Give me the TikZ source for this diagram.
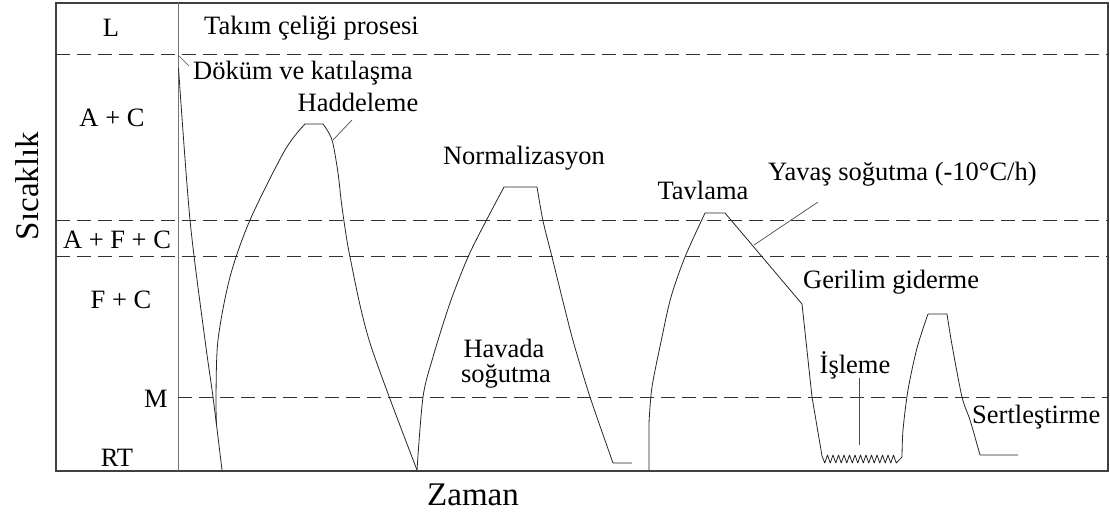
\documentclass[tikz,border=0pt]{standalone}
\usepackage{fontspec}
\setmainfont{Liberation Serif}
\begin{document}
\begin{tikzpicture}[x=1pt,y=-1pt,
  lbl/.style={inner sep=0pt, anchor=base, font=\fontsize{26.5}{28}\selectfont},
  axislbl/.style={inner sep=0pt, anchor=base, font=\fontsize{33}{36}\selectfont},
  frameline/.style={draw=black!75, line width=1.2pt},
  sepline/.style={draw=black!55, line width=1pt},
  phase/.style={draw=black!80, line width=0.8pt, dash pattern=on 14pt off 7pt},
  curve/.style={draw=black!85, line width=0.8pt, line join=round},
  leader/.style={draw=black!70, line width=0.7pt}]
\useasboundingbox (0,0) rectangle (1110,513);

% frame and column separator
\draw[frameline] (56,3) rectangle (1108,471);
\draw[sepline] (178,3) -- (178,471);

% phase boundaries
\draw[phase] (56,54) -- (1108,54);
\draw[phase] (56,220) -- (1108,220);
\draw[phase] (56,256) -- (1108,256);
\draw[phase] (178,397) -- (1108,397);

% phase labels
\node[lbl] (pL) at (111,37) {L};
\node[lbl] (pAC) at (112,127) {A + C};
\node[lbl] (pAFC) at (117,248) {A + F + C};
\node[lbl] (pFC) at (121,308) {F + C};
\node[lbl, anchor=base east] (pM) at (168,407) {M};
\node[lbl] (pRT) at (117,466) {RT};

% axis titles
\node[lbl, anchor=base west] (title) at (204,35) {Takım çeliği prosesi};
\node[axislbl, rotate=90] (ylab) at (38,186) {Sıcaklık};
\node[axislbl] (xlab) at (473,505) {Zaman};

% casting and solidification
\draw[curve] plot[smooth, tension=0.5] coordinates {(178.5,68) (190,220) (205,340) (213,397) (222,470)};

% rolling
\draw[curve] plot[smooth, tension=0.5] coordinates {(216.5,425) (216,397) (218,340) (230,277) (250,220) (285,150) (305,124)}
  -- (323,124)
  -- plot[smooth, tension=0.5] coordinates {(323,124) (332,140) (338,173) (342,207) (350,257) (370,343) (417,470)};

% normalizing
\draw[curve] plot[smooth, tension=0.5] coordinates {(417,470) (423,397) (433,357) (450,303) (468,257) (486,221) (504,187)}
  -- (537,187)
  -- plot[smooth, tension=0.4] coordinates {(537,187) (543,221) (552,257) (572,337) (590,397) (613,463)}
  -- (632,463);

% annealing, slow cooling, stress relief, machining, hardening
\draw[curve] (649,470) -- (649,423)
  -- plot[smooth, tension=0.5] coordinates {(649,423) (652,387) (662,337) (671,297) (685,257) (705,213)}
  -- (725,213) -- (802,304) -- (812,397) -- (822,456)
  \foreach \i in {1,...,27} { -- ({822+2.75*\i}, {455+8*mod(\i,2)}) }
  -- (902,457)
  -- plot[smooth, tension=0.5] coordinates {(902,457) (903,430) (908,390) (917,348) (928,314)}
  -- (947,314)
  -- plot[smooth, tension=0.5] coordinates {(947,314) (952,345) (962,397) (970,420) (980,455)}
  -- (1018,455);

% process labels
\node[lbl, anchor=base west] (dokum) at (193,80) {Döküm ve katılaşma};
\node[lbl] (hadde) at (358,112) {Haddeleme};
\node[lbl] (norm) at (524,165) {Normalizasyon};
\node[lbl] (tavla) at (703,200) {Tavlama};
\node[lbl, anchor=base west] (yavas) at (768,181) {Yavaş soğutma (-10°C/h)};
\node[lbl, anchor=base west] (geril) at (803,288) {Gerilim giderme};
\node[lbl] (havada) at (504,357) {Havada};
\node[lbl] (sogut) at (506,382) {soğutma};
\node[lbl] (isleme) at (855,373) {İşleme};
\node[lbl, anchor=base west] (sert) at (972,423) {Sertleştirme};

% leader lines
\coordinate (cDok) at (178,55);
\coordinate (tDok) at (189,66);
\coordinate (cHad) at (333,140);
\coordinate (tHad) at (352,120);
\coordinate (cYav) at (754,245);
\coordinate (tYav) at (818,202);
\coordinate (cIsl) at (859,445);
\coordinate (tIsl) at (859,378);
\draw[leader] (cDok) -- (tDok);
\draw[leader] (cHad) -- (tHad);
\draw[leader] (cYav) -- (tYav);
\draw[leader] (cIsl) -- (tIsl);
\end{tikzpicture}
\end{document}
